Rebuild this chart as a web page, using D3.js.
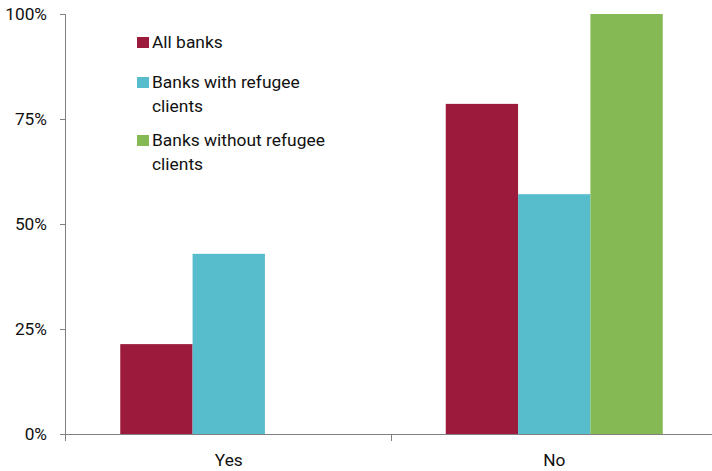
<!DOCTYPE html>
<html><head><meta charset="utf-8">
<script src="https://cdn.jsdelivr.net/npm/d3@7"></script>
<style>body{margin:0;background:#fff}svg{display:block}text{font-family:Roboto,"Noto Sans",sans-serif;fill:#111}</style>
</head><body><svg id="c" width="712" height="471"></svg>
<script>
const categories = ["Yes", "No"];
const seriesNames = ["All banks", "Banks with refugee clients", "Banks without refugee clients"];
const allBanks = [21.4, 78.6];
const withRefugee = [42.9, 57.1];
const withoutRefugee = [0, 100];
const yTicks = [0, 25, 50, 75, 100];
const colors = ["#9c1a3c", "#57bccc", "#84b954"];
const legendLines = [["All banks"], ["Banks with refugee", "clients"], ["Banks without refugee", "clients"]];

(function () {
const series = [allBanks, withRefugee, withoutRefugee];
const svg = d3.select("#c");
const mLeft = 66, mRight = 717, mTop = 14, mBottom = 434;
const x0 = d3.scaleBand().domain(categories).range([mLeft, mRight]).padding(0);
const bw = x0.bandwidth();
const x1 = d3.scaleBand().domain(d3.range(3)).range([bw / 6, bw * 5 / 6]).padding(0);
const y = d3.scaleLinear().domain([0, 100]).range([mBottom, mTop]);

categories.forEach((c, ci) => {
  series.forEach((s, si) => {
    if (s[ci] <= 0) return;
    svg.append("rect")
      .attr("x", x0(c) + x1(si))
      .attr("y", y(s[ci]))
      .attr("width", x1.bandwidth())
      .attr("height", y(0) - y(s[ci]))
      .attr("fill", colors[si]);
  });
});

const yAxis = svg.append("g").attr("transform", `translate(${mLeft},0)`)
  .call(d3.axisLeft(y).tickValues(yTicks).tickFormat(d => d + "%").tickSize(6).tickPadding(13));
yAxis.select(".domain").attr("stroke", "#808080").attr("d", `M-0.5,${mTop}V${mBottom}`);
yAxis.selectAll(".tick line").attr("stroke", "#808080");
yAxis.selectAll(".tick text").attr("font-size", 17.3).attr("fill", "#111").style("font-family", "Roboto");

const xAxis = svg.append("g").attr("transform", `translate(0,${mBottom})`)
  .call(d3.axisBottom(x0).tickSize(0).tickPadding(20));
xAxis.select(".domain").attr("stroke", "#808080").attr("d", `M${mLeft},0.5H${mRight}`);
xAxis.selectAll(".tick text").attr("font-size", 17.3).attr("fill", "#111").style("font-family", "Roboto");
svg.append("line").attr("x1", x0("No")).attr("x2", x0("No"))
  .attr("y1", mBottom).attr("y2", mBottom + 7).attr("stroke", "#808080");
svg.append("line").attr("x1", mLeft - 0.5).attr("x2", mLeft - 0.5)
  .attr("y1", mBottom).attr("y2", mBottom + 7).attr("stroke", "#808080");

const legTop = [48, 88, 146];
legendLines.forEach((lines, i) => {
  const g = svg.append("g");
  g.append("rect").attr("x", 137).attr("y", legTop[i] - 11).attr("width", 12).attr("height", 11).attr("fill", colors[i]);
  lines.forEach((t, li) => {
    g.append("text").attr("x", 152).attr("y", legTop[i] + li * 23.5).attr("font-size", 17.4).text(t);
  });
});
})();
</script></body></html>
